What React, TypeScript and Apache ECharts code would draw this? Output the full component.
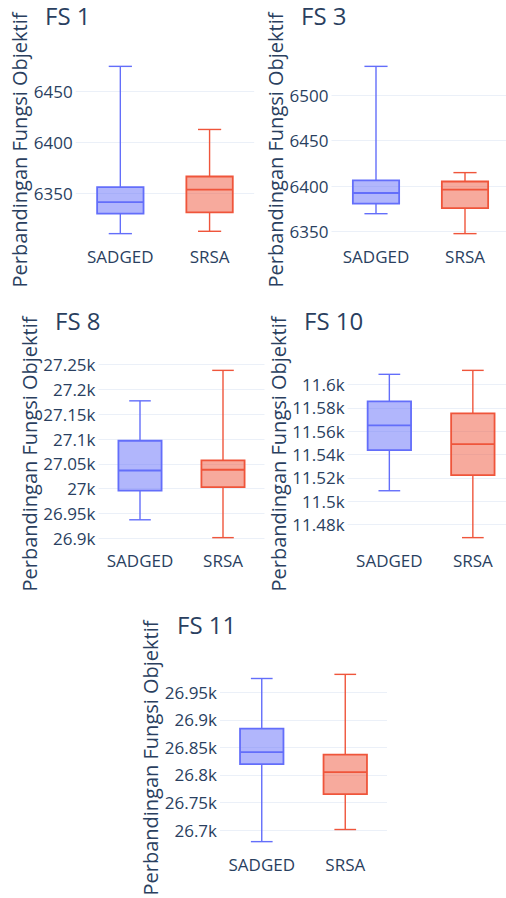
import React, { useEffect, useRef } from "react";
import * as echarts from "echarts";

const categories = ["SADGED", "SRSA"];
const panelTitles = ["FS 1", "FS 3", "FS 8", "FS 10", "FS 11"];
const yAxisTitle = "Perbandingan Fungsi Objektif";

// each array: [min, q1, median, q3, max]
const fs1Sadged = [6311, 6330.5, 6341.8, 6356.4, 6474.3];
const fs1Srsa = [6313.3, 6331.8, 6354, 6366.8, 6412.7];
const fs3Sadged = [6369.5, 6380.6, 6392.3, 6406.3, 6532];
const fs3Srsa = [6347.5, 6375.7, 6396, 6405, 6414.8];
const fs8Sadged = [26937, 26996, 27036.5, 27096.5, 27177];
const fs8Srsa = [26901, 27003, 27038, 27056.7, 27238.5];
const fs10Sadged = [11509, 11543.9, 11565, 11585.6, 11608.8];
const fs10Srsa = [11468.8, 11522.4, 11549, 11575.3, 11612.2];
const fs11Sadged = [26679, 26819.5, 26841.4, 26884, 26975];
const fs11Srsa = [26701, 26765.3, 26805, 26837, 26982.5];

const tickSteps = [50, 50, 50, 20, 50];
const useK = [false, false, true, true, true];

const panelData = [
  [fs1Sadged, fs1Srsa],
  [fs3Sadged, fs3Srsa],
  [fs8Sadged, fs8Srsa],
  [fs10Sadged, fs10Srsa],
  [fs11Sadged, fs11Srsa],
];

const layout = [
  { left: 75.7, top: 58, width: 178.5, height: 184, titleLeft: 45, titleTop: 3, nameGap: 39 },
  { left: 331.5, top: 58, width: 178, height: 184, titleLeft: 301, titleTop: 3, nameGap: 40 },
  { left: 98.5, top: 362, width: 166, height: 184, titleLeft: 55, titleTop: 308, nameGap: 52 },
  { left: 347.6, top: 362, width: 167, height: 184, titleLeft: 304, titleTop: 308, nameGap: 53 },
  { left: 220, top: 666, width: 167, height: 184, titleLeft: 177, titleTop: 612, nameGap: 52 },
];

const colors = ["#636efa", "#EF553B"];
const fills = ["rgba(99,110,250,0.5)", "rgba(239,85,59,0.5)"];
const textColor = "#2a3f5f";
const font = "Open Sans";

function renderBox(params: any, api: any) {
  const xi = api.value(0);
  const lo = api.coord([xi, api.value(1)]);
  const q1 = api.coord([xi, api.value(2)]);
  const md = api.coord([xi, api.value(3)]);
  const q3 = api.coord([xi, api.value(4)]);
  const hi = api.coord([xi, api.value(5)]);
  const band = api.size([1, 0])[0];
  const bw = band * 0.52;
  const cw = bw / 2;
  const cx = lo[0];
  const stroke = api.visual("color");
  const fill = fills[params.seriesIndex % 2];
  const wStyle = { stroke, lineWidth: 1.4 };
  return {
    type: "group",
    children: [
      { type: "line", shape: { x1: cx, y1: q3[1], x2: cx, y2: hi[1] }, style: wStyle },
      { type: "line", shape: { x1: cx - cw / 2, y1: hi[1], x2: cx + cw / 2, y2: hi[1] }, style: wStyle },
      { type: "line", shape: { x1: cx, y1: q1[1], x2: cx, y2: lo[1] }, style: wStyle },
      { type: "line", shape: { x1: cx - cw / 2, y1: lo[1], x2: cx + cw / 2, y2: lo[1] }, style: wStyle },
      {
        type: "rect",
        shape: { x: cx - bw / 2, y: q3[1], width: bw, height: q1[1] - q3[1] },
        style: { fill, stroke, lineWidth: 1.8 },
      },
      { type: "line", shape: { x1: cx - bw / 2, y1: md[1], x2: cx + bw / 2, y2: md[1] }, style: { stroke, lineWidth: 1.8 } },
    ],
  };
}

function fmt(k: boolean) {
  return (v: number) => (k ? String(+(v / 1000).toFixed(3)) + "k" : String(v));
}

export default function App() {
  const ref = useRef<HTMLDivElement>(null);
  useEffect(() => {
    document.body.style.margin = "0";
    const chart = echarts.init(ref.current!, null, { renderer: "svg" });
    const grids: any[] = [];
    const xAxes: any[] = [];
    const yAxes: any[] = [];
    const titles: any[] = [];
    const series: any[] = [];
    panelData.forEach((pair, i) => {
      const L = layout[i];
      const all = pair.flat();
      const dMin = Math.min(...all);
      const dMax = Math.max(...all);
      const pad = (dMax - dMin) * 0.05;
      grids.push({
        left: L.left,
        top: L.top,
        width: L.width,
        height: L.height,
        containLabel: false,
        outerBoundsMode: "none",
      });
      titles.push({
        text: panelTitles[i],
        left: L.titleLeft,
        top: L.titleTop,
        padding: 0,
        textStyle: { fontSize: 24, fontWeight: "normal", color: textColor, fontFamily: font },
      });
      xAxes.push({
        type: "category",
        gridIndex: i,
        data: categories,
        axisLine: { show: false },
        axisTick: { show: false },
        splitLine: { show: false },
        axisLabel: { fontSize: 17, color: textColor, fontFamily: font, margin: 6, interval: 0 },
      });
      yAxes.push({
        type: "value",
        gridIndex: i,
        min: dMin - pad,
        max: dMax + pad,
        minInterval: tickSteps[i],
        maxInterval: tickSteps[i],
        name: yAxisTitle,
        nameLocation: "middle",
        nameRotate: 90,
        nameGap: L.nameGap,
        nameTextStyle: { fontSize: 20, color: textColor, fontFamily: font },
        axisLine: { show: false },
        axisTick: { show: false },
        axisLabel: {
          fontSize: 17,
          color: textColor,
          fontFamily: font,
          margin: 3,
          showMinLabel: false,
          showMaxLabel: false,
          formatter: fmt(useK[i]),
        },
        splitLine: { show: true, showMinLine: false, showMaxLine: false, lineStyle: { color: "#EBF0F8", width: 1 } },
      });
      pair.forEach((vals, j) => {
        series.push({
          type: "custom",
          name: categories[j],
          xAxisIndex: i,
          yAxisIndex: i,
          itemStyle: { color: colors[j] },
          renderItem: renderBox,
          encode: { x: 0, y: [1, 2, 3, 4, 5] },
          data: [[j, ...vals]],
        });
      });
    });
    chart.setOption({
      animation: false,
      backgroundColor: "#ffffff",
      title: titles,
      grid: grids,
      xAxis: xAxes,
      yAxis: yAxes,
      series,
    });
    return () => chart.dispose();
  }, []);
  return <div ref={ref} style={{ width: 506, height: 898, position: "absolute", left: 0, top: 0 }} />;
}
